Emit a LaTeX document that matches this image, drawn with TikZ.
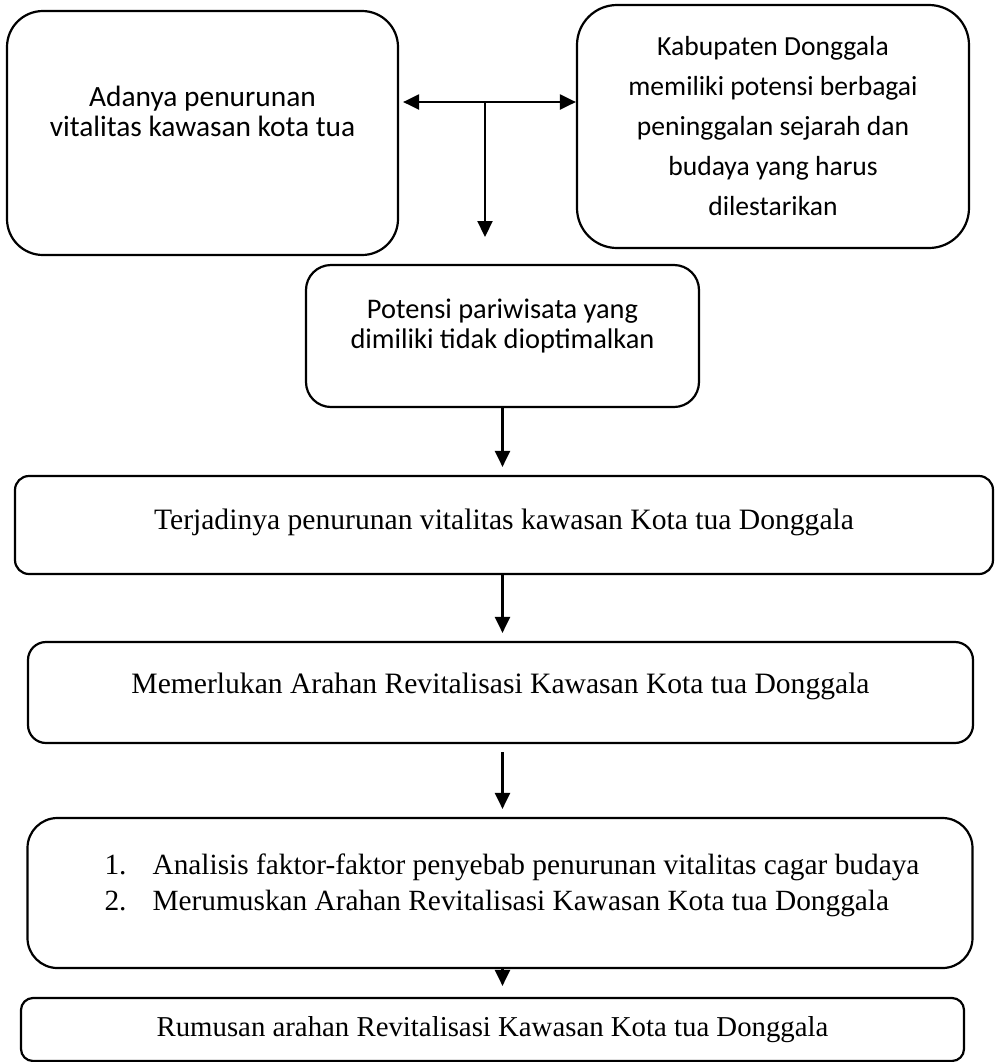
\documentclass[tikz,border=0pt]{standalone}
\usepackage{fontspec}
\setmainfont{Liberation Serif}
\newfontfamily\calibri{Carlito}
\usepackage{tikz}
\usetikzlibrary{arrows.meta, calc, positioning}

\begin{document}
\begin{tikzpicture}[x=0.5pt, y=-0.5pt,
  box/.style={draw, rounded corners=#1, line width=1.1pt, inner sep=0pt, align=center},
  idea/.style={box=#1, font=\calibri\fontsize{14.2}{15}\selectfont},
  stage/.style={box=#1, font=\fontsize{14.8}{18}\selectfont},
  flow/.style={-{Triangle[length=8pt,width=7.5pt]}, line width=1.1pt},
  twoway/.style={{Triangle[length=8pt,width=7.5pt]}-{Triangle[length=8pt,width=7.5pt]}, line width=1.1pt}]
\useasboundingbox (0,0) rectangle (999,1062);

% latar belakang
\node[idea=18pt, minimum width=195.5pt, minimum height=122pt, text depth=22pt, font=\calibri\fontsize{14.7}{15}\selectfont] (vital) at (202.5,133)
  {Adanya penurunan\\vitalitas kawasan kota tua};
\node[idea=20pt, minimum width=196pt, minimum height=121.5pt, font=\calibri\fontsize{13.8}{20}\selectfont] (heritage) at (773,126.5)
  {Kabupaten Donggala\\memiliki potensi berbagai\\peninggalan sejarah dan\\budaya yang harus\\dilestarikan};
\node[idea=12.5pt, minimum width=196.5pt, minimum height=71pt, text depth=12.5pt] (tourism) at (502.5,336)
  {Potensi pariwisata yang\\dimiliki tidak dioptimalkan};

\coordinate (split) at (485,102);
\coordinate (drop) at (485,237);
\draw[twoway, shorten <=2pt] (vital.east |- split) -- (heritage.west |- split);
\draw[flow] (split) -- (drop);

% alur penelitian
\node[stage=7pt, minimum width=489pt, minimum height=49pt, text depth=6pt] (decline) at (504,525)
  {Terjadinya penurunan vitalitas kawasan Kota tua Donggala};
\node[stage=9pt, minimum width=472.5pt, minimum height=50.5pt, text depth=9pt] (need) at (500.5,692.5)
  {Memerlukan Arahan Revitalisasi Kawasan Kota tua Donggala};
\node[stage=15pt, minimum width=472.5pt, minimum height=75pt, text depth=11pt, align=left, font=\fontsize{14.67}{18}\selectfont] (analysis) at (500,893)
  {\hspace*{12pt}\makebox[24pt][l]{1.}Analisis faktor-faktor penyebab penurunan vitalitas cagar budaya\\
   \hspace*{12pt}\makebox[24pt][l]{2.}Merumuskan Arahan Revitalisasi Kawasan Kota tua Donggala};
\node[stage=6pt, minimum width=471.5pt, minimum height=31.5pt, font=\fontsize{14.4}{18}\selectfont] (result) at (492.5,1029.5)
  {Rumusan arahan Revitalisasi Kawasan Kota tua Donggala};

\draw[flow, shorten >=4pt] (tourism.south) -- (tourism.south |- decline.north);
\draw[flow, shorten >=4pt] (tourism.south |- decline.south) -- (tourism.south |- need.north);
\draw[flow, shorten <=4pt, shorten >=4pt] (tourism.south |- need.south) -- (tourism.south |- analysis.north);
\draw[flow, shorten >=5.5pt] (tourism.south |- analysis.south) -- (tourism.south |- result.north);
\end{tikzpicture}
\end{document}
